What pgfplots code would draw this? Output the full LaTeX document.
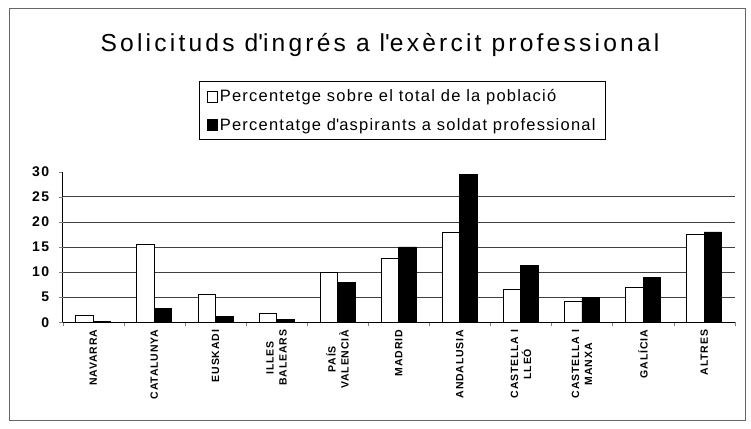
\documentclass[border=0pt]{standalone}
\usepackage{pgfplots}
\pgfplotsset{compat=1.18}
\usepackage{fontspec}
\setmainfont{Liberation Sans}
\newfontfamily\titlefont{Liberation Sans}[LetterSpace=13]
\newfontfamily\legfont{Liberation Sans}[LetterSpace=7.5]
\newfontfamily\tickfont{Liberation Sans}[LetterSpace=10]
\newfontfamily\xfont{Liberation Sans}[LetterSpace=8]
\begin{document}
\begin{tikzpicture}[x=1pt,y=1pt]
\useasboundingbox (0,0) rectangle (751,428);
\draw[black!60, line width=0.8pt] (9,8) rectangle (745,420);
\node[font=\titlefont\fontsize{24.6}{28}\selectfont, anchor=base] at (380,376) {Solicituds d\textquotesingle ingrés a l\textquotesingle exèrcit professional};
\begin{axis}[
  at={(62.7pt,105.7pt)}, anchor=south west,
  scale only axis, width=672pt, height=150.6pt,
  ymin=0, ymax=30, xmin=-0.5, xmax=10.5,
  ybar=0pt, bar width=17.5pt,
  axis x line*=bottom, axis y line*=left,
  axis line style={-, line width=0.8pt},
  tick align=outside,
  major tick length=4pt,
  minor tick length=4pt,
  ytick={0,5,...,30},
  yticklabel style={font=\tickfont\fontsize{14}{14}\selectfont\bfseries, xshift=-6pt},
  /pgf/number format/assume math mode=true,
  xtick={0,...,10},
  major x tick style={draw=none},
  minor xtick={-0.5,0.5,...,10.5},
  xticklabels={NAVARRA, CATALUNYA, EUSKADI, {ILLES\\BALEARS}, {PAÍS\\VALENCIÀ}, MADRID, ANDALUSIA, {CASTELLA I\\LLEÓ}, {CASTELLA I\\MANXA}, GALÍCIA, ALTRES},
  xticklabel style={rotate=90, anchor=east, align=center, font=\xfont\fontsize{10.5}{13}\selectfont\bfseries},
  extra y ticks={5,10,15,20,25},
  extra y tick labels={},
  extra y tick style={grid=major},
  major grid style={black!75, line width=0.6pt},
  legend style={at={(0.5055,1.2105)}, anchor=south, draw=black, line width=0.6pt,
    font=\legfont\fontsize{16.5}{20}\selectfont, row sep=11pt, inner xsep=8pt, inner ysep=6pt},
  legend cell align=left,
  legend image code/.code={\draw[#1, line width=0.6pt] (0pt,-5.5pt) rectangle (10pt,5.5pt);},
]
\addplot[fill=white, draw=black, line width=0.8pt] coordinates {
(0,1.4) (1,15.6) (2,5.5) (3,1.7) (4,9.9) (5,12.8) (6,17.9) (7,6.5) (8,4.2) (9,7.0) (10,17.5)};
\addlegendentry{Percentetge sobre el total de la població}
\addplot[fill=black, draw=black, line width=0.8pt] coordinates {
(0,0.2) (1,2.7) (2,1.2) (3,0.6) (4,8.0) (5,15.0) (6,29.4) (7,11.4) (8,5.0) (9,9.0) (10,18.0)};
\addlegendentry{Percentatge d\textquotesingle aspirants a soldat professional}
\end{axis}
\end{tikzpicture}
\end{document}
